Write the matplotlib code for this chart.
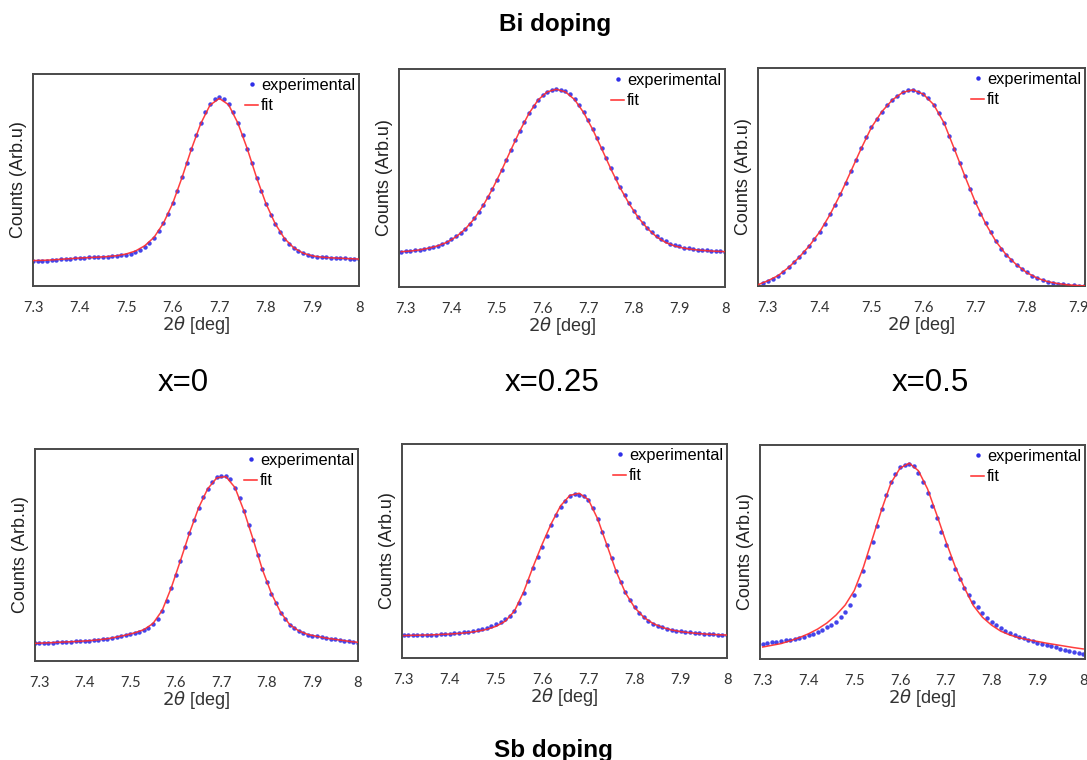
import numpy as np
import matplotlib
matplotlib.use("Agg")
import matplotlib.pyplot as plt
from matplotlib.lines import Line2D

# ---------------- data (arbitrary units) ----------------
row_titles = ["Bi doping", "Sb doping"]
col_labels = ["x=0", "x=0.25", "x=0.5"]
legend_labels = ["experimental", "fit"]
x_label = r"$2\theta$ [deg]"
y_label = "Counts (Arb.u)"

exp_step = 0.01
fit_step = 0.02

# Bi, x=0
bi0_exp_start = 7.30
bi0_exp = [0.118, 0.119, 0.119, 0.120, 0.121, 0.123, 0.125, 0.127, 0.129, 0.131,
           0.133, 0.134, 0.135, 0.136, 0.136, 0.137, 0.138, 0.140, 0.142, 0.144,
           0.148, 0.153, 0.161, 0.171, 0.186, 0.203, 0.228, 0.259, 0.296, 0.341,
           0.392, 0.450, 0.514, 0.581, 0.648, 0.712, 0.770, 0.820, 0.858, 0.882,
           0.890, 0.882, 0.858, 0.819, 0.769, 0.710, 0.646, 0.578, 0.510, 0.446,
           0.388, 0.337, 0.291, 0.253, 0.222, 0.198, 0.179, 0.165, 0.155, 0.147,
           0.142, 0.138, 0.136, 0.135, 0.134, 0.133, 0.132, 0.131, 0.129, 0.128,
           0.126]
bi0_fit_start = 7.30
bi0_fit = [0.120, 0.121, 0.123, 0.126, 0.129, 0.132, 0.134, 0.136, 0.139, 0.143,
           0.151, 0.165, 0.190, 0.230, 0.296, 0.390, 0.512, 0.645, 0.765, 0.853,
           0.885, 0.855, 0.768, 0.648, 0.512, 0.390, 0.294, 0.224, 0.180, 0.155,
           0.142, 0.136, 0.133, 0.131, 0.129, 0.127]

# Bi, x=0.25
bi25_exp_start = 7.29
bi25_exp = [0.162, 0.164, 0.166, 0.169, 0.172, 0.176, 0.180, 0.184, 0.190, 0.198,
            0.206, 0.218, 0.232, 0.248, 0.267, 0.289, 0.315, 0.344, 0.377, 0.413,
            0.451, 0.493, 0.536, 0.582, 0.628, 0.673, 0.717, 0.759, 0.797, 0.831,
            0.859, 0.881, 0.896, 0.904, 0.906, 0.904, 0.898, 0.884, 0.863, 0.837,
            0.804, 0.767, 0.725, 0.682, 0.637, 0.591, 0.545, 0.501, 0.459, 0.420,
            0.384, 0.350, 0.320, 0.294, 0.271, 0.251, 0.235, 0.221, 0.209, 0.199,
            0.192, 0.186, 0.181, 0.177, 0.174, 0.172, 0.170, 0.168, 0.166, 0.165,
            0.163, 0.162]
bi25_fit_start = 7.29
bi25_fit = [0.162, 0.165, 0.170, 0.178, 0.189, 0.205, 0.230, 0.265, 0.313, 0.375,
            0.450, 0.535, 0.627, 0.716, 0.796, 0.858, 0.895, 0.907, 0.895, 0.860,
            0.800, 0.722, 0.632, 0.540, 0.455, 0.381, 0.318, 0.268, 0.230, 0.204,
            0.188, 0.178, 0.172, 0.168, 0.165, 0.163, 0.162]

# Bi, x=0.5
bi50_exp_start = 7.28
bi50_exp = [0.006, 0.015, 0.025, 0.034, 0.047, 0.066, 0.086, 0.108, 0.132, 0.157,
            0.185, 0.216, 0.248, 0.286, 0.328, 0.373, 0.420, 0.472, 0.526, 0.579,
            0.631, 0.682, 0.731, 0.767, 0.800, 0.830, 0.853, 0.873, 0.889, 0.899,
            0.900, 0.888, 0.879, 0.862, 0.830, 0.793, 0.747, 0.688, 0.627, 0.566,
            0.505, 0.444, 0.387, 0.332, 0.289, 0.248, 0.205, 0.171, 0.144, 0.120,
            0.097, 0.078, 0.062, 0.046, 0.037, 0.029, 0.020, 0.015, 0.011, 0.008,
            0.005, 0.003, 0.002, 0.001]
bi50_fit_start = 7.28
bi50_fit = [0.005, 0.024, 0.048, 0.085, 0.131, 0.184, 0.248, 0.328, 0.421, 0.525,
            0.630, 0.728, 0.800, 0.853, 0.888, 0.900, 0.880, 0.832, 0.748, 0.628,
            0.505, 0.387, 0.287, 0.205, 0.143, 0.097, 0.061, 0.036, 0.020, 0.011,
            0.005, 0.002, 0.000]

# Sb, x=0
sb0_exp_start = 7.29
sb0_exp = [0.083, 0.084, 0.085, 0.086, 0.087, 0.088, 0.089, 0.090, 0.091, 0.092,
           0.093, 0.095, 0.096, 0.098, 0.100, 0.102, 0.105, 0.109, 0.114, 0.118,
           0.122, 0.127, 0.132, 0.138, 0.146, 0.157, 0.175, 0.200, 0.238, 0.285,
           0.345, 0.405, 0.472, 0.537, 0.603, 0.664, 0.723, 0.773, 0.812, 0.845,
           0.866, 0.875, 0.872, 0.857, 0.817, 0.770, 0.706, 0.640, 0.572, 0.500,
           0.432, 0.372, 0.318, 0.272, 0.228, 0.196, 0.171, 0.154, 0.142, 0.132,
           0.125, 0.120, 0.116, 0.112, 0.108, 0.105, 0.102, 0.099, 0.096, 0.093,
           0.090, 0.087]
sb0_fit_start = 7.29
sb0_fit = [0.083, 0.085, 0.087, 0.089, 0.091, 0.093, 0.096, 0.100, 0.105, 0.113,
           0.122, 0.133, 0.148, 0.177, 0.238, 0.345, 0.472, 0.603, 0.722, 0.812,
           0.864, 0.870, 0.818, 0.706, 0.572, 0.432, 0.318, 0.230, 0.172, 0.142,
           0.125, 0.116, 0.108, 0.102, 0.096, 0.090, 0.087]

# Sb, x=0.25
sb25_exp_start = 7.30
sb25_exp = [0.106, 0.106, 0.107, 0.107, 0.108, 0.108, 0.109, 0.109, 0.110, 0.112,
            0.114, 0.116, 0.118, 0.120, 0.123, 0.127, 0.131, 0.136, 0.142, 0.149,
            0.157, 0.168, 0.182, 0.198, 0.220, 0.258, 0.305, 0.362, 0.420, 0.470,
            0.520, 0.570, 0.620, 0.666, 0.705, 0.735, 0.755, 0.766, 0.764, 0.758,
            0.737, 0.700, 0.650, 0.590, 0.530, 0.466, 0.405, 0.355, 0.308, 0.270,
            0.238, 0.212, 0.192, 0.175, 0.161, 0.151, 0.143, 0.137, 0.132, 0.128,
            0.125, 0.122, 0.120, 0.118, 0.116, 0.114, 0.112, 0.110, 0.109, 0.107,
            0.106]
sb25_fit_start = 7.30
sb25_fit = [0.105, 0.106, 0.107, 0.108, 0.110, 0.112, 0.115, 0.119, 0.125, 0.134,
            0.148, 0.172, 0.220, 0.310, 0.425, 0.532, 0.630, 0.712, 0.760, 0.770,
            0.740, 0.650, 0.528, 0.405, 0.305, 0.236, 0.190, 0.161, 0.143, 0.131,
            0.123, 0.118, 0.114, 0.111, 0.109, 0.107]

# Sb, x=0.5
sb50_exp_start = 7.30
sb50_exp = [0.072, 0.075, 0.078, 0.081, 0.084, 0.087, 0.090, 0.094, 0.099, 0.105,
            0.111, 0.119, 0.128, 0.137, 0.148, 0.160, 0.175, 0.194, 0.220, 0.254,
            0.297, 0.347, 0.410, 0.478, 0.545, 0.620, 0.700, 0.768, 0.828, 0.866,
            0.895, 0.908, 0.912, 0.903, 0.870, 0.826, 0.775, 0.717, 0.657, 0.594,
            0.532, 0.474, 0.419, 0.375, 0.334, 0.300, 0.268, 0.241, 0.215, 0.192,
            0.174, 0.160, 0.146, 0.132, 0.122, 0.113, 0.104, 0.096, 0.089, 0.083,
            0.077, 0.071, 0.065, 0.060, 0.055, 0.049, 0.044, 0.039, 0.034, 0.028,
            0.023]
sb50_fit_start = 7.30
sb50_fit = [0.056, 0.064, 0.072, 0.085, 0.100, 0.118, 0.140, 0.168, 0.205, 0.252,
            0.320, 0.430, 0.565, 0.700, 0.822, 0.892, 0.915, 0.880, 0.795, 0.675,
            0.550, 0.434, 0.335, 0.250, 0.195, 0.158, 0.130, 0.112, 0.099, 0.090,
            0.082, 0.074, 0.067, 0.060, 0.053, 0.047]

tick_values_a = [7.3, 7.4, 7.5, 7.6, 7.7, 7.8, 7.9, 8.0]
tick_labels_a = ["7.3", "7.4", "7.5", "7.6", "7.7", "7.8", "7.9", "8"]
tick_values_b = [7.3, 7.4, 7.5, 7.6, 7.7, 7.8, 7.9]
tick_labels_b = ["7.3", "7.4", "7.5", "7.6", "7.7", "7.8", "7.9"]

panels = [
    # (exp_start, exp, fit_start, fit, xlim, ticks, ticklabels, rect px)
    (bi0_exp_start, bi0_exp, bi0_fit_start, bi0_fit, (7.30, 8.00),
     tick_values_a, tick_labels_a, [33, 74, 359, 286]),
    (bi25_exp_start, bi25_exp, bi25_fit_start, bi25_fit, (7.285, 8.00),
     tick_values_a, tick_labels_a, [399, 69, 725, 287]),
    (bi50_exp_start, bi50_exp, bi50_fit_start, bi50_fit, (7.281, 7.912),
     tick_values_b, tick_labels_b, [758, 68, 1085, 286]),
    (sb0_exp_start, sb0_exp, sb0_fit_start, sb0_fit, (7.291, 8.00),
     tick_values_a, tick_labels_a, [35, 449, 358, 661]),
    (sb25_exp_start, sb25_exp, sb25_fit_start, sb25_fit, (7.2965, 8.00),
     tick_values_a, tick_labels_a, [402, 444, 727, 658]),
    (sb50_exp_start, sb50_exp, sb50_fit_start, sb50_fit, (7.294, 8.004),
     tick_values_a, tick_labels_a, [760, 445, 1085, 659]),
]

# ---------------- figure ----------------
W, H = 1087, 760
fig = plt.figure(figsize=(W / 100, H / 100), dpi=100)
fig.patch.set_facecolor("white")

sans = ["Liberation Sans", "DejaVu Sans"]
tick_font = ["Lato", "DejaVu Sans"]
exp_color = "#2f2fe8"
fit_color = "#ff2a2a"

for (es, ey, fs, fy, xl, tv, tl, (x0, y0, x1, y1)) in panels:
    ax = fig.add_axes([x0 / W, 1 - y1 / H, (x1 - x0) / W, (y1 - y0) / H])
    ey = np.asarray(ey)
    fy = np.asarray(fy)
    ex = es + exp_step * np.arange(len(ey))
    fx = fs + fit_step * np.arange(len(fy))
    ax.plot(ex, ey, linestyle="none", marker="o", markersize=3.2,
            markeredgewidth=0, color=exp_color, alpha=0.9, zorder=2)
    ax.plot(fx, fy, color=fit_color, lw=1.1, alpha=0.9, zorder=3)
    ax.set_xlim(*xl)
    ax.set_ylim(0, 1)
    ax.set_yticks([])
    ax.set_xticks(tv)
    ax.set_xticklabels(tl, fontfamily=tick_font, fontsize=10.5, color="#333333")
    ax.tick_params(axis="x", length=0, pad=11)
    for sp in ax.spines.values():
        sp.set_color("#4a4a4a")
        sp.set_linewidth(1.4)
    ax.set_xlabel(x_label, fontsize=13, color="#333333", labelpad=-1,
                  fontfamily=sans)
    ax.set_ylabel(y_label, fontsize=13, color="#222222", labelpad=4,
                  fontfamily=sans)
    handles = [
        Line2D([], [], linestyle="none", marker="o", markersize=3.2,
               markeredgewidth=0, color=exp_color),
        Line2D([], [], color=fit_color, lw=1.1),
    ]
    ax.legend(handles, legend_labels, loc="upper right", frameon=False,
              prop={"family": sans, "size": 11.8}, handlelength=0.8,
              handletextpad=0.15, labelspacing=0.32, borderaxespad=0.15,
              borderpad=0.1)

fig.text(555 / W, 1 - 25 / H, row_titles[0], ha="center", va="center",
         fontsize=17.5, fontweight="bold", fontfamily=sans)
fig.text(553 / W, 1 - 757 / H, row_titles[1], ha="center", va="baseline",
         fontsize=17.5, fontweight="bold", fontfamily=sans)
for lab, cx in zip(col_labels, [183, 552, 930]):
    fig.text(cx / W, 1 - 383 / H, lab, ha="center", va="center",
             fontsize=22.5, fontfamily=sans)

fig.savefig("out.png", dpi=100)
